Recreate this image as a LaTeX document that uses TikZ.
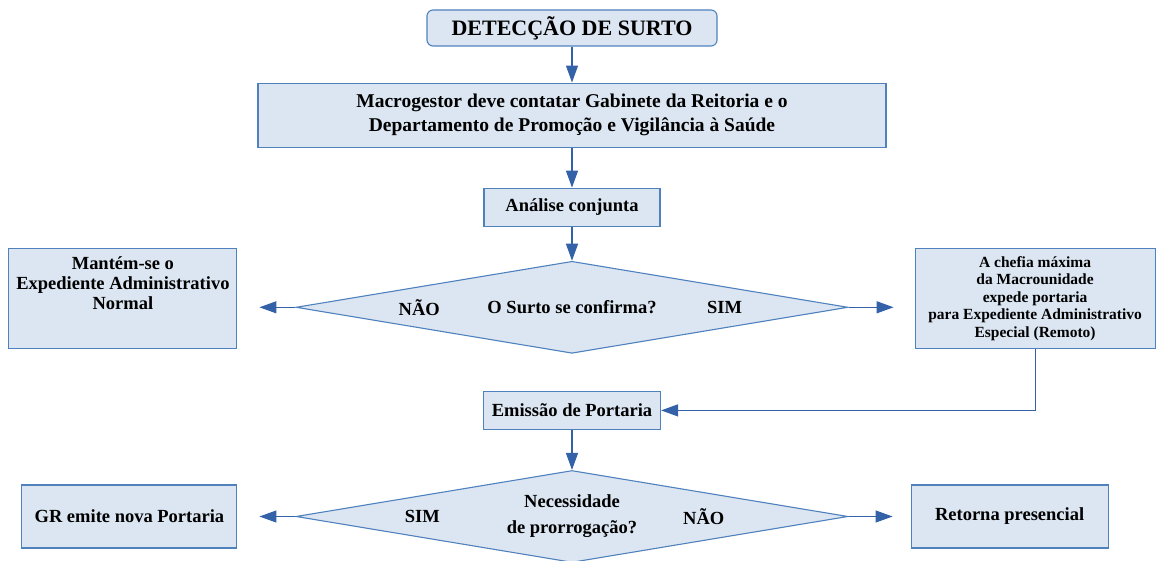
\documentclass[tikz,border=0pt]{standalone}
\usepackage{fontspec}
\setmainfont{Liberation Serif}
\usepackage{tikz}
\usetikzlibrary{shapes.geometric, arrows.meta, positioning}

\definecolor{boxfill}{RGB}{220,230,242}
\definecolor{boxline}{RGB}{79,129,189}
\definecolor{arrowblue}{RGB}{52,98,168}

\begin{document}
\begin{tikzpicture}[
    x=1pt, y=1pt,
    titlebox/.style={rectangle, rounded corners=6pt, minimum width=290pt, minimum height=36pt, text centered, draw=boxline, fill=boxfill, line width=1.1pt, font=\bfseries\fontsize{22}{24}\selectfont},
    process/.style={rectangle, text centered, draw=boxline, fill=boxfill, line width=1.1pt, align=center, font=\bfseries\fontsize{18.5}{20}\selectfont},
    decision/.style={diamond, aspect=6, minimum width=552pt, minimum height=92pt, inner sep=0pt, draw=boxline, fill=boxfill, line width=1.1pt, align=center, font=\bfseries\fontsize{18.5}{26}\selectfont},
    answer/.style={inner sep=0pt, font=\bfseries\fontsize{18.5}{20}\selectfont},
    arrow/.style={line width=1.2pt, draw=arrowblue, -{Triangle[length=17pt, width=12pt]}}
]
\useasboundingbox (0,0) rectangle (1157,-561);

\node[titlebox] (deteccao) at (572,-28) {DETECÇÃO DE SURTO};
\node[process, minimum width=628pt, minimum height=64pt, font=\bfseries\fontsize{19.5}{24}\selectfont, below=36pt of deteccao] (contato) {Macrogestor deve contatar Gabinete da Reitoria e o\\Departamento de Promoção e Vigilância à Saúde};
\node[process, minimum width=176pt, minimum height=38pt, below=40pt of contato] (analise) {Análise conjunta};
\node[decision, below=34pt of analise] (confirma) {O Surto se confirma?};
\node[answer, left=132pt of confirma.center] (nao1) {NÃO};
\node[answer, right=135pt of confirma.center] (sim1) {SIM};
\node[process, minimum width=228pt, minimum height=100pt, text depth=30pt, left=58pt of confirma, yshift=9pt] (normal) {Mantém-se o\\Expediente Administrativo\\Normal};
\node[process, minimum width=240pt, minimum height=100pt, font=\bfseries\fontsize{15.5}{17.5}\selectfont, right=66pt of confirma, yshift=9pt] (remoto) {A chefia máxima\\da Macrounidade\\expede portaria\\para Expediente Administrativo\\Especial (Remoto)};
\node[process, minimum width=177pt, minimum height=38pt, below=37pt of confirma] (portaria) {Emissão de Portaria};
\node[decision, below=40pt of portaria] (prorroga) {Necessidade\\de prorrogação?};
\node[answer, left=132pt of prorroga.center] (sim2) {SIM};
\node[answer, right=111pt of prorroga.center] (nao2) {NÃO};
\node[process, minimum width=215pt, minimum height=63pt, left=58pt of prorroga] (novaport) {GR emite nova Portaria};
\node[process, minimum width=197pt, minimum height=63pt, right=62pt of prorroga] (retorna) {Retorna presencial};

% Connectors
\draw[arrow] (deteccao.south) -- (contato.north);
\draw[arrow] (contato.south) -- (analise.north);
\draw[arrow] (analise.south) -- (confirma.north);
\draw[arrow, shorten >=22pt] (confirma.west) -- (confirma.west -| normal.east);
\draw[arrow, shorten >=21pt] (confirma.east) -- (confirma.east -| remoto.west);
\draw[arrow] (remoto.south) |- (portaria.east);
\draw[arrow] (portaria.south) -- (prorroga.north);
\draw[arrow, shorten >=22pt] (prorroga.west) -- (novaport.east);
\draw[arrow, shorten >=18pt] (prorroga.east) -- (retorna.west);

\end{tikzpicture}
\end{document}
